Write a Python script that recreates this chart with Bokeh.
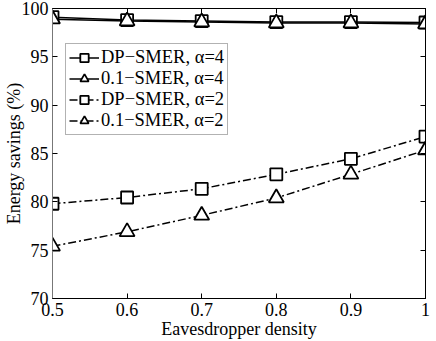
from bokeh.plotting import figure
from bokeh.models import LinearAxis, FixedTicker, Legend, LegendItem, Range1d
from bokeh.embed import file_html
from bokeh.resources import INLINE

density = [0.5, 0.6, 0.7, 0.8, 0.9, 1.0]
dp_a4 = [99.1, 98.8, 98.7, 98.6, 98.6, 98.55]
smer_a4 = [98.9, 98.7, 98.6, 98.5, 98.5, 98.4]
dp_a2 = [79.8, 80.45, 81.35, 82.85, 84.45, 86.75]
smer_a2 = [75.4, 76.9, 78.6, 80.4, 82.85, 85.35]
x_ticks = [0.5, 0.6, 0.7, 0.8, 0.9, 1.0]
y_ticks = [70, 75, 80, 85, 90, 95, 100]
labels = ["DP\u2212SMER, \u03b1=4", "0.1\u2212SMER, \u03b1=4",
          "DP\u2212SMER, \u03b1=2", "0.1\u2212SMER, \u03b1=2"]

FONT = "Liberation Serif"
FRAME_H = 290

p = figure(frame_width=373, frame_height=FRAME_H, output_backend="svg", toolbar_location=None,
           x_range=Range1d(0.5, 1.0), y_range=Range1d(70, 100),
           min_border_left=40, min_border_right=10, min_border_top=8, min_border_bottom=10)
p.xgrid.visible = False
p.ygrid.visible = False
p.outline_line_color = "black"
p.background_fill_color = "white"
p.border_fill_color = "white"

for ax in (p.xaxis[0], p.yaxis[0]):
    ax.major_tick_in = 5
    ax.major_tick_out = 0
    ax.minor_tick_line_color = None
    ax.major_label_text_font = FONT
    ax.major_label_text_font_size = "18px"
    ax.major_label_text_color = "black"
    ax.axis_label_text_font = FONT
    ax.axis_label_text_font_size = "18px"
    ax.axis_label_text_font_style = "normal"
    ax.axis_label_text_color = "black"
    ax.major_tick_line_color = "black"

p.xaxis[0].ticker = FixedTicker(ticks=x_ticks)
p.xaxis[0].major_label_overrides = {1.0: "1", 1: "1"}
p.xaxis[0].axis_label = "Eavesdropper density"
p.xaxis[0].axis_label_standoff = 0
p.xaxis[0].major_label_standoff = 4
p.xaxis[0].axis_line_color = "black"
p.yaxis[0].ticker = FixedTicker(ticks=y_ticks)
p.yaxis[0].axis_label = "Energy savings (%)"
p.yaxis[0].axis_label_standoff = -5
p.yaxis[0].major_label_standoff = 4
p.yaxis[0].axis_line_color = "#777777"

right = LinearAxis(ticker=FixedTicker(ticks=y_ticks), major_label_text_font_size="0px",
                   major_tick_in=5, major_tick_out=0, minor_tick_line_color=None,
                   axis_line_color="black", major_label_standoff=0)
top = LinearAxis(ticker=FixedTicker(ticks=x_ticks), major_label_text_font_size="0px",
                 major_tick_in=5, major_tick_out=0, minor_tick_line_color=None,
                 axis_line_color="black", major_label_standoff=0)
right.major_label_text_alpha = 0
top.major_label_text_alpha = 0
p.add_layout(right, "right")
p.add_layout(top, "above")

items = []
series = [(dp_a4, "square", "solid", 12), (smer_a4, "triangle", "solid", 15),
          (dp_a2, "square", "8 3 2 3", 12), (smer_a2, "triangle", "8 3 2 3", 15)]
for (ys, marker, dash, size), lab in zip(series, labels):
    l = p.line(density, ys, line_color="black", line_width=1.5, line_dash=dash)
    s = p.scatter(density, ys, marker=marker, size=size, fill_color="white",
                  line_color="black", line_width=1.8)
    items.append(LegendItem(label=lab, renderers=[l, s]))

legend = Legend(items=items)
legend.label_text_font = FONT
legend.label_text_font_size = "18.5px"
legend.label_text_color = "black"
legend.border_line_color = "#666666"
legend.border_line_width = 1
legend.glyph_width = 30
legend.glyph_height = 21
legend.label_height = 21
legend.label_standoff = 2
legend.spacing = 0
legend.padding = 3
legend.margin = 0
legend.background_fill_alpha = 1
legend.location = (13, FRAME_H - 35 - 92)
p.add_layout(legend, "center")

open("out.html", "w").write(file_html(p, INLINE))
